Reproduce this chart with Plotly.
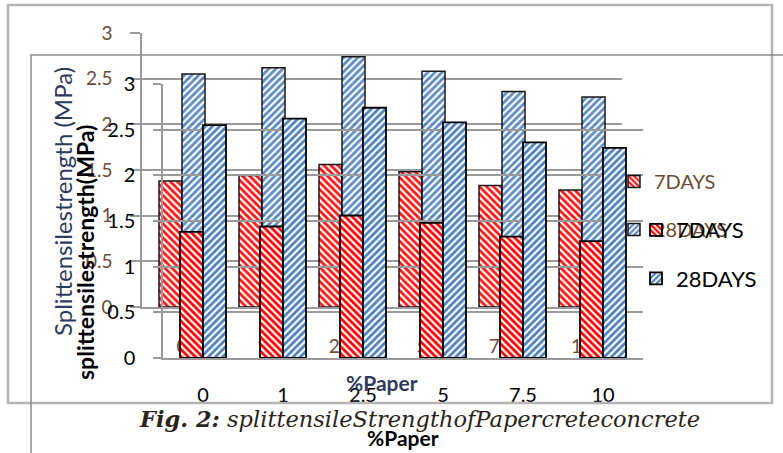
import plotly.graph_objects as go

# ---- data ----
paper_pct = ["0", "1", "2.5", "5", "7.5", "10"]
days7 = [1.38, 1.44, 1.56, 1.48, 1.33, 1.28]
days28 = [2.55, 2.62, 2.74, 2.58, 2.36, 2.30]
y_ticks = [0, 0.5, 1, 1.5, 2, 2.5, 3]
series_names = ["7DAYS", "28DAYS"]
y_title_back = "Splittensilestrength (MPa)"
y_title_front = "splittensilestrength(MPa)"
x_title = "%Paper"
caption = "Fig. 2:"
caption_rest = "splittensileStrengthofPapercreteconcrete"

W, H = 783, 453


def px(x):
    return x / W


def py(y):
    return 1 - y / H


RED = "#FF0000"
BLUE = "#4F81BD"
BG_TXT = "#6b4c36"
BG_TITLE = "#2f3a5a"
GRID = "#9a9a9a"
FONT = "Lato"

fig = go.Figure()

specs = [(series_names[0], days7, RED, "\\"), (series_names[1], days28, BLUE, "/")]

# background (copied) chart
for name, vals, col, shp in specs:
    fig.add_trace(go.Bar(
        x=paper_pct, y=vals, name=name, xaxis="x", yaxis="y",
        legend="legend", legendgroup="bg" + name, opacity=0.9,
        marker=dict(color="white", line=dict(color="black", width=1.5),
                    pattern=dict(shape=shp, fgcolor=col, bgcolor="white",
                                 size=5, solidity=0.55)),
    ))

# front chart
for name, vals, col, shp in specs:
    fig.add_trace(go.Bar(
        x=paper_pct, y=vals, name=name, xaxis="x2", yaxis="y2",
        legend="legend2", legendgroup="fr" + name,
        marker=dict(color="white", line=dict(color="black", width=1.8),
                    pattern=dict(shape=shp, fgcolor=col, bgcolor="white",
                                 size=5, solidity=0.55)),
    ))

axis_common = dict(range=[0, 3], tickvals=y_ticks, showgrid=True, gridcolor=GRID,
                   gridwidth=1.5, showline=True, linecolor=GRID, linewidth=1.5,
                   ticks="outside", tickcolor=GRID, tickwidth=1.5, zeroline=False,
                   automargin=False)
xcommon = dict(type="category", showgrid=False, showline=True, linecolor=GRID,
               linewidth=1.5, ticks="", zeroline=False, automargin=False)

fig.update_layout(
    template="none",
    width=W, height=H,
    margin=dict(l=0, r=0, t=0, b=0, pad=0, autoexpand=False),
    paper_bgcolor="white", plot_bgcolor="rgba(0,0,0,0)",
    barmode="group", bargap=0.425, bargroupgap=0,
    font=dict(family=FONT, color="black"),
    xaxis=dict(domain=[px(142), px(622)], anchor="y",
               tickfont=dict(size=19, color=BG_TXT), ticklabelstandoff=21, **xcommon),
    yaxis=dict(domain=[py(307), py(33)], anchor="x", ticklen=10, ticklabelstandoff=14,
               tickfont=dict(size=19, color=BG_TXT), **axis_common),
    xaxis2=dict(domain=[px(163), px(643)], anchor="y2",
                tickfont=dict(size=20, color="black"), ticklabelstandoff=18, **xcommon),
    yaxis2=dict(domain=[py(358), py(84)], anchor="x2", ticklen=8, ticklabelstandoff=14,
                tickfont=dict(size=20, color="black"), **axis_common),
    showlegend=True,
    legend=dict(x=px(614), y=py(162), xanchor="left", yanchor="top",
                font=dict(size=20, color=BG_TXT), bgcolor="rgba(0,0,0,0)",
                borderwidth=0, traceorder="grouped", tracegroupgap=19),
    legend2=dict(x=px(636), y=py(209), xanchor="left", yanchor="top",
                 font=dict(size=22, color="black"), bgcolor="rgba(0,0,0,0)",
                 borderwidth=0, traceorder="grouped", tracegroupgap=17),
)

# frames
fig.add_shape(type="rect", xref="paper", yref="paper",
              x0=px(8), x1=px(772), y0=py(403), y1=py(5),
              line=dict(color="#b4b4b4", width=2.5), layer="above")
fig.add_shape(type="rect", xref="paper", yref="paper",
              x0=px(31), x1=px(820), y0=py(480), y1=py(55),
              line=dict(color="#8c8c8c", width=1.5), layer="above")

# titles
ann = dict(xref="paper", yref="paper", showarrow=False, xanchor="center", yanchor="middle")
fig.add_annotation(text=y_title_back, x=px(62), y=py(202), textangle=-90,
                   font=dict(size=24, color=BG_TITLE), **ann)
fig.add_annotation(text="<b>" + y_title_front + "</b>", x=px(85), y=py(253),
                   textangle=-90, font=dict(size=23, color="black"), **ann)
fig.add_annotation(text="<b>" + x_title + "</b>", x=px(382), y=py(382),
                   font=dict(size=21, color=BG_TITLE), **ann)
fig.add_annotation(text="<b>" + x_title + "</b>", x=px(403), y=py(437),
                   font=dict(size=21, color="black"), **ann)
fig.add_annotation(text="<b><i>" + caption + "</i></b> <i>" + caption_rest + "</i>",
                   xref="paper", yref="paper", x=px(137), y=py(419),
                   xanchor="left", yanchor="middle", showarrow=False,
                   font=dict(family="DejaVu Serif", size=22.5, color="#2a2418"))

fig.write_html("out.html", config={"displayModeBar": False},
               post_script="document.body.style.margin='0';")
